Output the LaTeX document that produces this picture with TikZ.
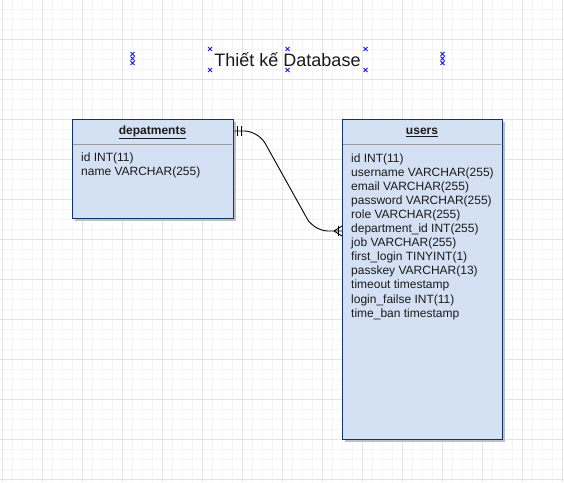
\documentclass[tikz,border=0pt]{standalone}
\usepackage{fontspec}
\setmainfont{Liberation Sans}
\definecolor{gridmaj}{HTML}{E4E4E4}
\definecolor{gridmin}{HTML}{F4F4F4}
\definecolor{boxfill}{HTML}{D4E1F5}
\definecolor{boxline}{HTML}{0E3564}
\definecolor{handle}{HTML}{1A1AE6}
\definecolor{txt}{HTML}{1A1A1A}
\tikzset{
  entity/.style={draw=boxline, fill=boxfill, line width=1.3pt, inner sep=0pt},
  shadowbox/.style={fill=black!25},
  divider/.style={draw=black!40, line width=0.8pt},
  field/.style={anchor=base west, inner sep=0pt, font=\fontsize{12}{14}\selectfont, text=txt},
  heading/.style={anchor=base, inner sep=0pt, font=\fontsize{12}{14}\selectfont\bfseries, text=txt},
  conn/.style={draw=black, line width=0.9pt},
  handlemark/.style={draw=handle, line width=0.8pt},
}
\newcommand\selx[2]{\draw[handlemark] (#1-2,#2-2) -- (#1+2,#2+2) (#1-2,#2+2) -- (#1+2,#2-2);}
\begin{document}
\begin{tikzpicture}[x=1pt,y=-1pt]
\useasboundingbox[fill=white] (0,0) rectangle (564,482);
% grid
\foreach \x in {2.5,12.5,...,562.5} \draw[gridmin, line width=0.8pt] (\x,0) -- (\x,482);
\foreach \y in {9.5,19.5,...,479.5} \draw[gridmin, line width=0.8pt] (0,\y) -- (564,\y);
\foreach \x in {2.5,42.5,...,562.5} \draw[gridmaj, line width=0.9pt] (\x,0) -- (\x,482);
\foreach \y in {39.5,79.5,...,479.5} \draw[gridmaj, line width=0.9pt] (0,\y) -- (564,\y);

% title
\node[anchor=base, inner sep=0pt, font=\fontsize{18}{20}\selectfont, text=txt] (title) at (287.5,66) {Thiết kế Database};
% selection handles
\selx{132.5}{54}\selx{132.5}{58.5}\selx{132.5}{63}
\selx{442.5}{54}\selx{442.5}{58.5}\selx{442.5}{63}
\selx{210}{49}\selx{210}{70}
\selx{287.5}{49}\selx{287.5}{70}
\selx{365.5}{49}\selx{365.5}{70}

% departments
\fill[shadowbox] (75,122) rectangle (236,221);
\node[entity, minimum width=161pt, minimum height=99pt, anchor=north west] (dep) at (72,119) {};
\draw[divider] (72.7,144) -- (232.3,144);
\node[heading] (dephead) at (152.5,134.5) {\underline{depatments}};
\node[field] (d1) at (81,161) {id INT(11)};
\node[field] (d2) at (81,175) {name VARCHAR(255)};

% users
\fill[shadowbox] (345,122) rectangle (505,442);
\node[entity, minimum width=160pt, minimum height=320pt, anchor=north west] (usr) at (342,119) {};
\draw[divider] (342.7,144) -- (501.3,144);
\node[heading] (usrhead) at (422,134.5) {\underline{users}};
\foreach \t [count=\i] in {id INT(11), username VARCHAR(255), email VARCHAR(255), password VARCHAR(255), role VARCHAR(255), department\_id INT(255), job VARCHAR(255), first\_login TINYINT(1), passkey VARCHAR(13), timeout timestamp, login\_failse INT(11), time\_ban timestamp}
  \node[field] (u\i) at (351,{162+14.1*(\i-1)}) {\t};

% connector
\coordinate (dp) at ([yshift=-12pt]dep.north east);
\coordinate (up) at ([yshift=-112pt]usr.north west);
\coordinate (dpb) at ([xshift=24pt]dp);
\coordinate (upb) at ([xshift=-28pt]up);
\draw[conn, rounded corners=14pt] (dp) -- (dpb) -- (upb) -- (up);
% one-and-only-one at departments
\draw[conn] ([xshift=3pt,yshift=5pt]dp) -- ([xshift=3pt,yshift=-5pt]dp);
\draw[conn] ([xshift=7pt,yshift=5pt]dp) -- ([xshift=7pt,yshift=-5pt]dp);
% one-or-many at users
\draw[conn] ([xshift=-4pt,yshift=5pt]up) -- ([xshift=-4pt,yshift=-5pt]up);
\draw[conn] ([xshift=-8pt]up) -- ([yshift=5pt]up);
\draw[conn] ([xshift=-8pt]up) -- ([yshift=-5pt]up);
\end{tikzpicture}
\end{document}
